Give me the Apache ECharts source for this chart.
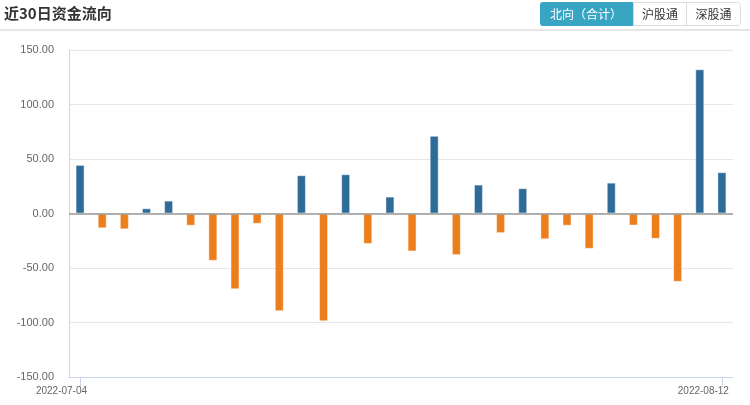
<!DOCTYPE html>
<html>
<head>
<meta charset="utf-8">
<script src="https://cdn.jsdelivr.net/npm/echarts@6/dist/echarts.min.js"></script>
<style>
html,body{margin:0;padding:0;background:#fff;}
#chart{width:750px;height:405px;}
</style>
</head>
<body>
<div id="chart"></div>
<script>
var titleText = '近30日资金流向';
var buttonLabels = ['北向（合计）', '沪股通', '深股通'];
var dates = [
  '2022-07-04','2022-07-05','2022-07-06','2022-07-07','2022-07-08',
  '2022-07-11','2022-07-12','2022-07-13','2022-07-14','2022-07-15',
  '2022-07-18','2022-07-19','2022-07-20','2022-07-21','2022-07-22',
  '2022-07-25','2022-07-26','2022-07-27','2022-07-28','2022-07-29',
  '2022-08-01','2022-08-02','2022-08-03','2022-08-04','2022-08-05',
  '2022-08-08','2022-08-09','2022-08-10','2022-08-11','2022-08-12'
];
var netFlow = [
  44.6, -13.6, -14.5, 4.8, 11.8,
  -11.2, -43.4, -69.5, -9.4, -89.7,
  35.1, -98.9, 36.0, -28.0, 15.5,
  -34.8, 71.3, -38.2, 26.5, -18.0,
  23.2, -23.7, -11.2, -32.4, 28.3,
  -11.0, -23.2, -62.7, 132.3, 37.9
];

var chart = echarts.init(document.getElementById('chart'));
var last = dates.length - 1;
var edgeOnly = function (i) { return i === 0 || i === last; };

chart.setOption({
  animation: false,
  grid: { left: 69, right: 17, top: 50, bottom: 28, containLabel: false },
  graphic: [
    { type: 'text', left: 4, top: 6, style: { text: titleText, font: 'bold 15px "Noto Sans CJK SC"', fill: '#333' } },
    { type: 'rect', shape: { x: 0, y: 29, width: 750, height: 2 }, style: { fill: '#e6e6e6' } },
    { type: 'rect', shape: { x: 540, y: 2, width: 93, height: 24, r: [3, 0, 0, 3] }, style: { fill: '#38a5c2' } },
    { type: 'rect', shape: { x: 633.5, y: 2.5, width: 53, height: 23 }, style: { fill: '#fff', stroke: '#dcdcdc', lineWidth: 1 } },
    { type: 'rect', shape: { x: 686.5, y: 2.5, width: 54, height: 23, r: [0, 3, 3, 0] }, style: { fill: '#fff', stroke: '#dcdcdc', lineWidth: 1 } },
    { type: 'text', x: 586, y: 14, style: { text: buttonLabels[0], font: '12px "Noto Sans CJK SC"', fill: '#fff', align: 'center', verticalAlign: 'middle' } },
    { type: 'text', x: 660, y: 14, style: { text: buttonLabels[1], font: '12px "Noto Sans CJK SC"', fill: '#333', align: 'center', verticalAlign: 'middle' } },
    { type: 'text', x: 713.5, y: 14, style: { text: buttonLabels[2], font: '12px "Noto Sans CJK SC"', fill: '#333', align: 'center', verticalAlign: 'middle' } }
  ],
  xAxis: {
    type: 'category',
    data: dates,
    boundaryGap: true,
    axisLine: { onZero: false, lineStyle: { color: '#ccd6eb', width: 1 } },
    axisTick: { show: true, alignWithLabel: true, length: 10, interval: edgeOnly, lineStyle: { color: '#ccd6eb' } },
    axisLabel: {
      interval: edgeOnly,
      margin: 9,
      color: '#666',
      fontSize: 10,
      fontFamily: 'Liberation Sans',
      align: 'right',
      padding: [0, -7, 0, 0]
    },
    splitLine: { show: false }
  },
  yAxis: {
    type: 'value',
    min: -150,
    max: 150,
    interval: 50,
    axisLine: { show: true, lineStyle: { color: '#ccd6eb', width: 1 } },
    axisTick: { show: false },
    axisLabel: {
      color: '#666',
      fontSize: 11,
      fontFamily: 'Liberation Sans',
      margin: 15,
      formatter: function (v) { return v.toFixed(2); }
    },
    splitLine: { lineStyle: { color: '#e6e6e6', width: 1 } }
  },
  series: [{
    type: 'bar',
    data: netFlow,
    barWidth: 9,
    itemStyle: {
      color: function (p) { return p.value >= 0 ? '#2f6b99' : '#ec7f1c'; },
      borderColor: 'rgba(255,255,255,0.45)',
      borderWidth: 1
    },
    markLine: {
      silent: true,
      symbol: 'none',
      label: { show: false },
      lineStyle: { color: '#999', width: 1.5, type: 'solid' },
      data: [{ yAxis: 0 }]
    }
  }]
});
</script>
</body>
</html>
